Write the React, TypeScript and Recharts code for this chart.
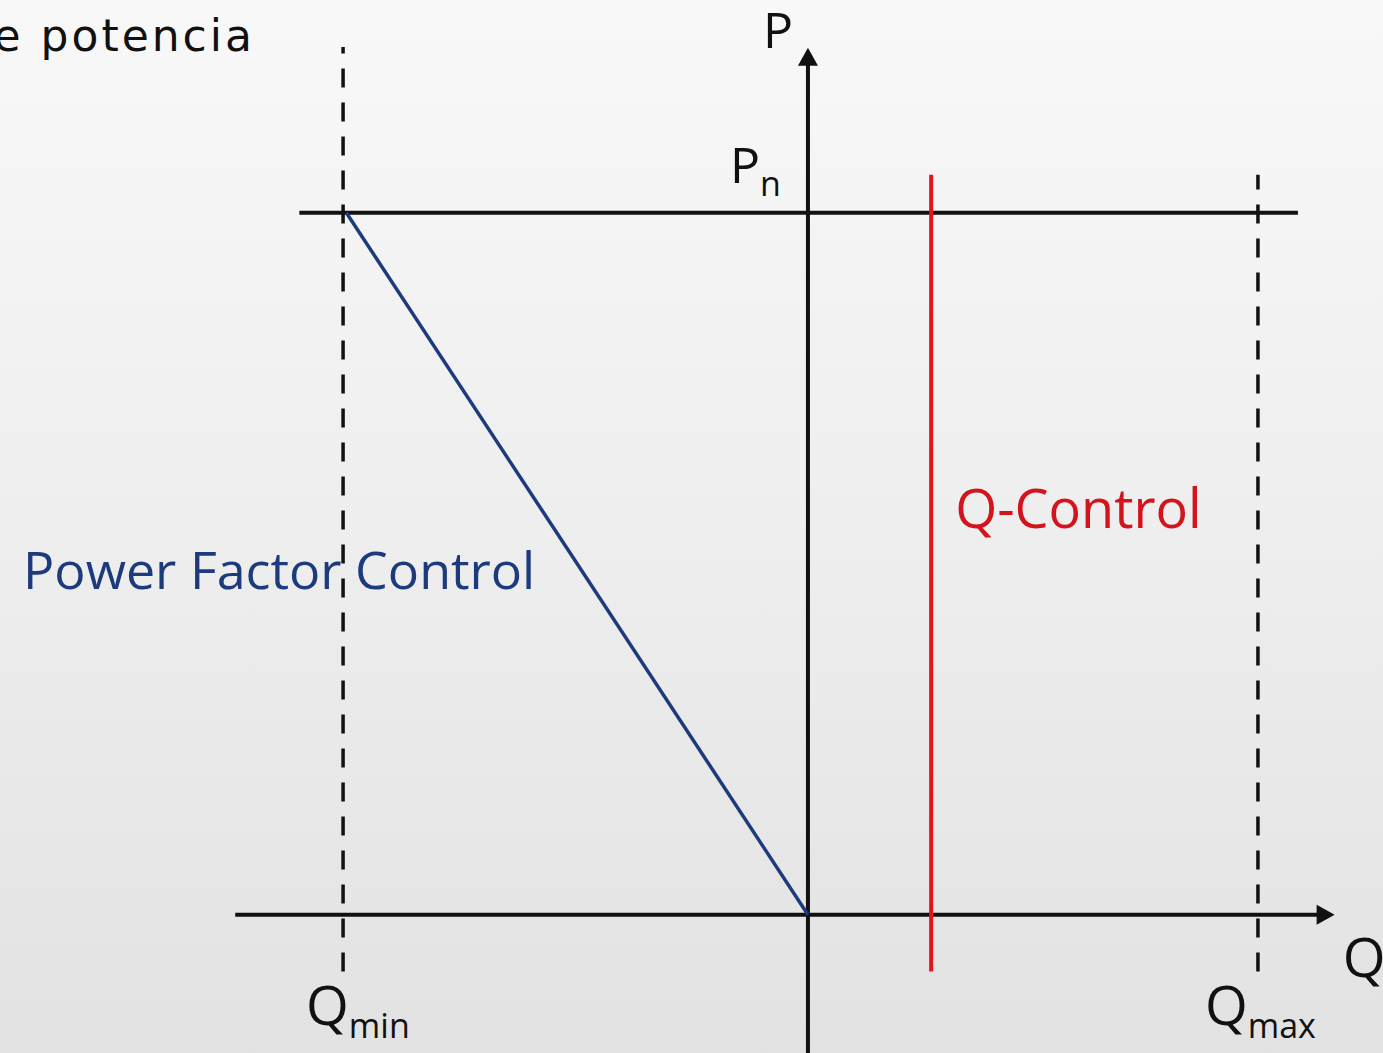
import { ComposedChart, XAxis, YAxis, Line, ReferenceLine, ReferenceDot } from 'recharts';

// values: Q in units of |Qmin|, P in units of Pn
const qLimits = [-1, 0.968]; // Qmin, Qmax
const pNominal = 1; // Pn
const qControl = 0.265; // constant-Q setpoint
const pfCurve = [
  { q: -0.993, p: 1 },
  { q: 0, p: 0 },
];

// reach of the axes and guide lines
const qAxisRange = [-1.232, 1.133];
const pAxisRange = [-0.197, 1.235];
const pnLineRange = [-1.094, 1.054];
const guideRange = [-0.081, 1.054];
const qMinGuideRange = [-0.081, 1.236];

const Q_DOMAIN: [number, number] = [-1.738, 1.237];
const P_DOMAIN: [number, number] = [-0.197, 1.303];

const W = 1383;
const H = 1053;
const FONT = "'Open Sans', sans-serif";
const BLUE = '#1d3a7c';
const RED = '#e3141b';
const INK = '#111';

const arrowUp = ({ cx, cy }: any) => (
  <polygon points={`${cx},${cy} ${cx - 10},${cy + 18} ${cx + 10},${cy + 18}`} fill={INK} />
);
const arrowRight = ({ cx, cy }: any) => (
  <polygon points={`${cx},${cy} ${cx - 18},${cy - 10} ${cx - 18},${cy + 10}`} fill={INK} />
);

const textAt =
  (main: string, sub: string | null, dx: number, dy: number, size: number, color: string, subSize = 34) =>
  ({ cx, cy }: any) => (
    <text x={cx + dx} y={cy + dy} fontFamily={FONT} fontSize={size} fill={color}>
      <tspan>{main}</tspan>
      {sub && (
        <tspan fontSize={subSize} dy={13}>
          {sub}
        </tspan>
      )}
    </text>
  );

export default function App() {
  const [qMin, qMax] = qLimits;
  return (
    <div
      style={{
        position: 'absolute',
        left: 0,
        top: 0,
        width: W,
        height: H,
        overflow: 'hidden',
        background: 'linear-gradient(to bottom, #f8f8f8 0%, #eeeeee 50%, #e2e2e2 100%)',
      }}
    >
      <div
        style={{
          position: 'absolute',
          right: W - 255,
          top: 10,
          whiteSpace: 'nowrap',
          fontFamily: "'DejaVu Sans', sans-serif",
          fontSize: 44,
          letterSpacing: 3,
          lineHeight: '52px',
          color: '#111',
        }}
      >
        de potencia
      </div>
      <ComposedChart width={W} height={H} data={pfCurve} margin={{ top: 0, right: 0, bottom: 0, left: 0 }}>
        <XAxis type="number" dataKey="q" domain={Q_DOMAIN} allowDataOverflow hide />
        <YAxis type="number" dataKey="p" domain={P_DOMAIN} allowDataOverflow hide />

        {/* Qmin / Qmax limits */}
        <ReferenceLine
          segment={[{ x: qMin, y: qMinGuideRange[0] }, { x: qMin, y: qMinGuideRange[1] }]}
          stroke={INK}
          strokeWidth={3.5}
          strokeDasharray="19 15"
        />
        <ReferenceLine
          segment={[{ x: qMax, y: guideRange[0] }, { x: qMax, y: guideRange[1] }]}
          stroke={INK}
          strokeWidth={3.5}
          strokeDasharray="19 15"
        />

        {/* axes and Pn line */}
        <ReferenceLine
          segment={[{ x: pnLineRange[0], y: pNominal }, { x: pnLineRange[1], y: pNominal }]}
          stroke={INK}
          strokeWidth={4}
        />
        <ReferenceLine
          segment={[{ x: qAxisRange[0], y: 0 }, { x: qAxisRange[1] - 0.02, y: 0 }]}
          stroke={INK}
          strokeWidth={4}
        />
        <ReferenceLine
          segment={[{ x: 0, y: pAxisRange[0] }, { x: 0, y: pAxisRange[1] - 0.02 }]}
          stroke={INK}
          strokeWidth={4}
          ifOverflow="visible"
        />
        <ReferenceDot x={0} y={pAxisRange[1]} r={0} shape={arrowUp} />
        <ReferenceDot x={qAxisRange[1]} y={0} r={0} shape={arrowRight} />

        {/* Q-Control */}
        <ReferenceLine
          segment={[{ x: qControl, y: guideRange[0] }, { x: qControl, y: guideRange[1] }]}
          stroke={RED}
          strokeWidth={4}
        />

        {/* power factor control */}
        <Line
          type="linear"
          dataKey="p"
          stroke={BLUE}
          strokeWidth={3.5}
          dot={false}
          activeDot={false}
          isAnimationActive={false}
        />

        {/* labels */}
        <ReferenceDot x={0} y={pAxisRange[1]} r={0} shape={textAt('P', null, -45, 0, 50, INK)} />
        <ReferenceDot x={0} y={pNominal} r={0} shape={textAt('P', 'n', -78, -30, 50, INK)} />
        <ReferenceDot x={qAxisRange[1]} y={0} r={0} shape={textAt('Q', null, 8, 62, 55, INK)} />
        <ReferenceDot x={qMin} y={0} r={0} shape={textAt('Q', 'min', -37, 110, 55, INK)} />
        <ReferenceDot x={qMax} y={0} r={0} shape={textAt('Q', 'max', -53, 110, 55, INK)} />
        <ReferenceDot x={qMin} y={0.5} r={0} shape={textAt('Power Factor Control', null, -320, 25, 52, BLUE)} />
        <ReferenceDot x={qControl} y={0.5} r={0} shape={textAt('Q-Control', null, 24, -36, 54, '#d3141c')} />
      </ComposedChart>
    </div>
  );
}
